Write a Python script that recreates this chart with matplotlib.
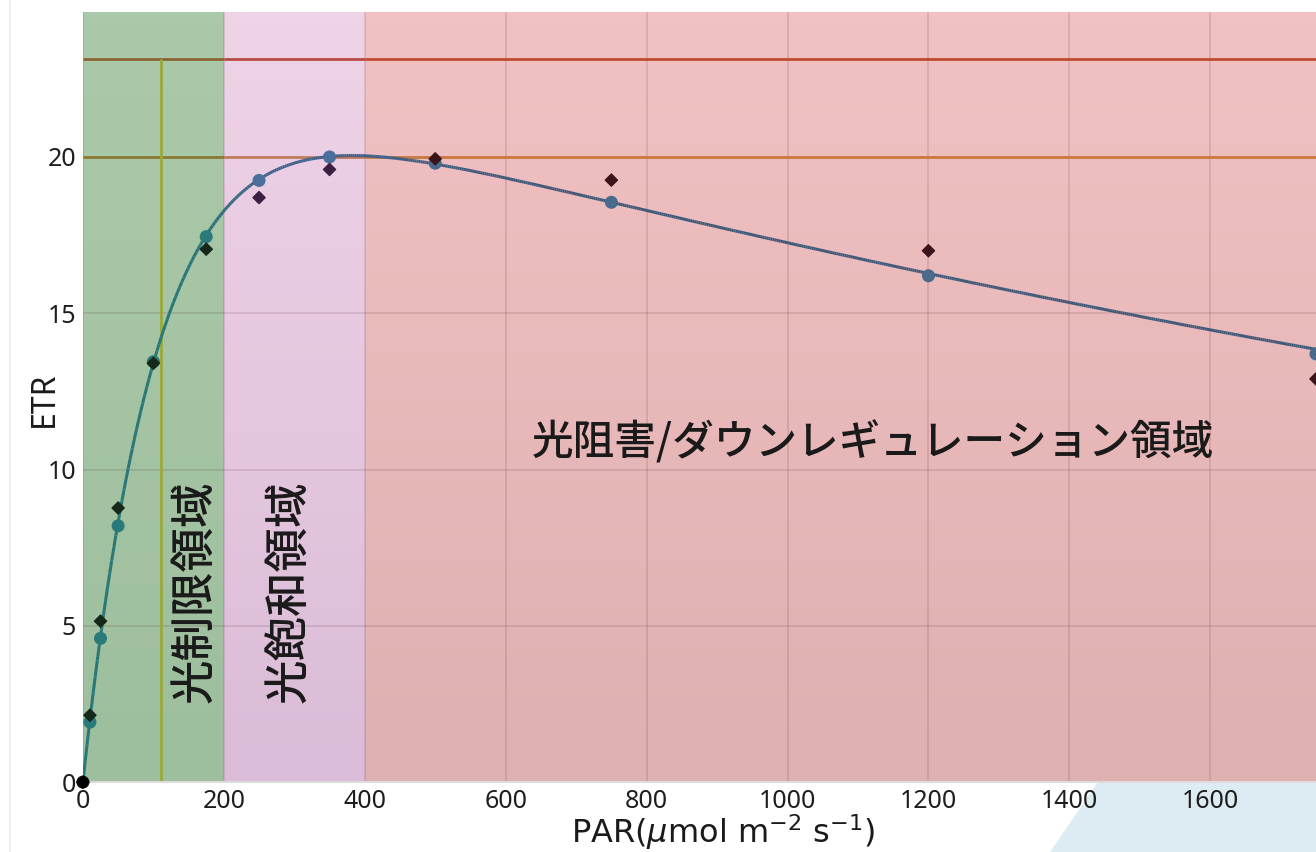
import numpy as np
import matplotlib
matplotlib.use("Agg")
import matplotlib.pyplot as plt
from matplotlib.collections import LineCollection
from matplotlib.colors import to_rgb, LinearSegmentedColormap
from matplotlib.patches import Polygon
from matplotlib.lines import Line2D

plt.rcParams['font.family'] = ['Noto Sans CJK JP', 'DejaVu Sans']
latin = ['Noto Sans', 'DejaVu Sans']

par = [0, 10, 25, 50, 100, 175, 250, 350, 500, 750, 1200, 1750]
etr_meas = [0, 2.14, 5.15, 8.77, 13.4, 17.05, 18.7, 19.6, 19.94, 19.26, 17.0, 12.9]
etr_fit = [0, 1.92, 4.6, 8.2, 13.45, 17.45, 19.25, 20.0, 19.8, 18.55, 16.2, 13.7]

# fit parameters (Platt model with photoinhibition)
ps = 23.15
alpha = 0.21
beta = 0.0068
pmax = 20.0
ek = ps / alpha

regions = [(0, 200, '光制限領域'), (200, 400, '光飽和領域'), (400, 1750, '光阻害/ダウンレギュレーション領域')]
region_top = ['#aac9a9', '#efd3e6', '#f2c1c3']
region_bot = ['#9ebf9e', '#dbbcd8', '#dfb0b1']

fig = plt.figure(figsize=(13.16, 8.52), dpi=100)
ax = fig.add_axes([0.063, 0.082, 0.937, 0.904])

# shaded regions with a soft vertical gradient
for (x0, x1, _), ct, cb in zip(regions, region_top, region_bot):
    cmap = LinearSegmentedColormap.from_list('g', [cb, ct])
    grad = np.linspace(0, 1, 64).reshape(-1, 1)
    ax.imshow(grad, cmap=cmap, origin='lower', aspect='auto',
              extent=(x0, x1, 0, 24.64), interpolation='bicubic', zorder=0)
ax.set_xlim(0, 1750)
ax.set_ylim(0, 24.64)

ax.set_xticks(np.arange(0, 1800, 200))
ax.set_yticks([0, 5, 10, 15, 20])
ax.grid(True, color='#5a2a2a', alpha=0.15, lw=1.3, zorder=1)
for s in ['top', 'right', 'left']:
    ax.spines[s].set_visible(False)
ax.spines['bottom'].set_color('#dcdcdc')
ax.spines['bottom'].set_linewidth(1.5)
ax.tick_params(length=0, labelsize=18, colors='#1e1e1e')
ax.tick_params(axis='x', pad=5)
ax.tick_params(axis='y', pad=5)
for lab in ax.get_xticklabels() + ax.get_yticklabels():
    lab.set_family(latin)

# Ps and Pmax lines, tinted per region
ax.hlines([ps] * 3, [0, 200, 400], [200, 400, 1750],
          colors=['#8c6434', '#b84c44', '#bf4a2c'], lw=2, zorder=2)
ax.hlines([pmax] * 3, [0, 200, 400], [200, 400, 1750],
          colors=['#8a7a34', '#c27c5c', '#c97a3c'], lw=2, zorder=2)
ax.vlines(ek, 0, ps, colors='#9aaa38', lw=2, zorder=2)

# fitted curve, colour shifting from teal to slate blue
xs = np.linspace(0, 1750, 600)
ys = ps * (1 - np.exp(-alpha * xs / ps)) * np.exp(-beta * xs / ps)
pts = np.column_stack([xs, ys]).reshape(-1, 1, 2)
segs = np.concatenate([pts[:-1], pts[1:]], axis=1)
c_teal = np.array(to_rgb('#2a7878'))
c_blue = np.array(to_rgb('#40608a'))
c_slate = np.array(to_rgb('#3e5878'))
cols = []
for x in xs[:-1]:
    if x < 400:
        t = np.clip((x - 150) / 120, 0, 1)
        cols.append(c_teal * (1 - t) + c_blue * t)
    else:
        t = np.clip((x - 400) / 200, 0, 1)
        cols.append(c_blue * (1 - t) + c_slate * t)
ax.add_collection(LineCollection(segs, colors=cols, lw=2.2, zorder=3))

fit_cols = []
meas_cols = []
for x in par:
    if x == 0:
        fit_cols.append('#111111')
        meas_cols.append('#000000')
    elif x < 200:
        fit_cols.append('#2a7a7a')
        meas_cols.append('#15281a')
    elif x < 400:
        fit_cols.append('#4a6f9c')
        meas_cols.append('#3a1f42')
    else:
        fit_cols.append('#4a6a8c')
        meas_cols.append('#3a1418')
ax.scatter(par, etr_fit, s=70, c=fit_cols, zorder=4, clip_on=False)
ax.scatter(par, etr_meas, s=38, c=meas_cols, marker='D', zorder=5, clip_on=False)

# region labels
ax.text(159, 6.1, regions[0][2], rotation=90, fontsize=32, fontweight='medium',
        ha='center', va='center', color='#1a1a1a', zorder=6)
ax.text(294, 6.1, regions[1][2], rotation=90, fontsize=32, fontweight='medium',
        ha='center', va='center', color='#1a1a1a', zorder=6)
ax.text(1121, 10.85, regions[2][2], fontsize=30, fontweight='medium',
        ha='center', va='center', color='#1a1a1a', zorder=6)

ax.set_ylabel('ETR', fontsize=23, family=latin, color='#1a1a1a')
ax.yaxis.set_label_coords(-0.031, 0.497)
ax.yaxis.label.set_va('center')
ax.set_xlabel('PAR($\\mu$mol m$^{-2}$ s$^{-1}$)', fontsize=23, family='DejaVu Sans', color='#1a1a1a')
ax.xaxis.set_label_coords(0.519, -0.065)
ax.xaxis.label.set_va('center')

# light decorations outside the plot
fig.patches.append(Polygon([[1098 / 1316, 70 / 852], [1.0, 70 / 852], [1.0, 0], [1050 / 1316, 0]],
                           closed=True, transform=fig.transFigure, color='#ddebf3', zorder=-1))
fig.add_artist(Line2D([10 / 1316, 10 / 1316], [0, 1], color='#eeeeee', lw=1.5))

fig.savefig('out.png', dpi=100)
